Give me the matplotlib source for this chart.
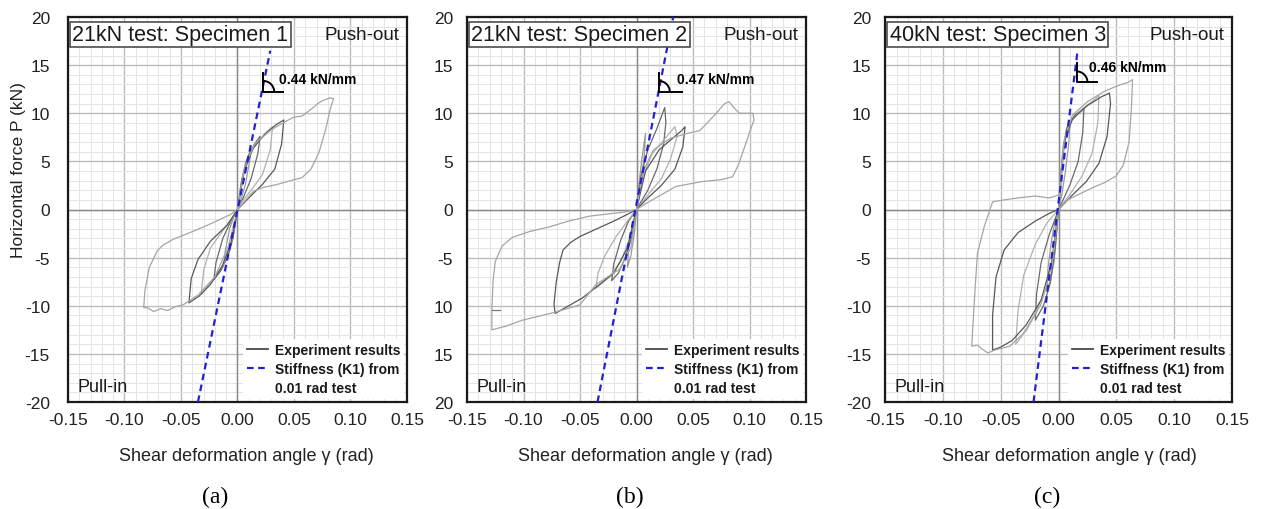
import matplotlib
matplotlib.use("Agg")
import matplotlib.pyplot as plt
from matplotlib.lines import Line2D
from matplotlib.patches import Arc
from matplotlib.ticker import MultipleLocator

plt.rcParams['font.family'] = ['Liberation Sans', 'DejaVu Sans']

# ---- data ----
gamma_ticks = [-0.15, -0.10, -0.05, 0.00, 0.05, 0.10, 0.15]
force_ticks = [-20, -15, -10, -5, 0, 5, 10, 15, 20]
force_labels_a = ['-20', '-15', '-10', '-5', '0', '5', '10', '15', '20']
force_labels_b = ['20', '15', '10', '-5', '0', '5', '10', '15', '20']

titles = ['21kN test: Specimen 1', '21kN test: Specimen 2', '40kN test: Specimen 3']
stiffness_text = ['0.44 kN/mm', '0.47 kN/mm', '0.46 kN/mm']
panel_tags = ['(a)', '(b)', '(c)']

# specimen 1 loops (gamma rad, force kN)
a_loops_x = [
    [0, 0.003, 0.007, 0.012, 0.011, 0.007, 0.003, 0, -0.003, -0.007, -0.012, -0.011, -0.007, -0.003, 0],
    [0, 0.004, 0.009, 0.015, 0.020, 0.018, 0.012, 0.005, 0, -0.004, -0.009, -0.015, -0.021, -0.019, -0.013, -0.005, 0],
    [0, 0.005, 0.012, 0.020, 0.027, 0.031, 0.029, 0.022, 0.012, 0.004, 0, -0.005, -0.012, -0.020, -0.027, -0.032,
     -0.030, -0.024, -0.013, -0.004, 0],
    [0, 0.006, 0.014, 0.024, 0.034, 0.041, 0.039, 0.033, 0.022, 0.010, 0, -0.006, -0.014, -0.024, -0.034, -0.043,
     -0.041, -0.035, -0.024, -0.009, 0],
    [0, 0.006, 0.015, 0.030, 0.045, 0.050, 0.057, 0.065, 0.071, 0.075, 0.082, 0.085, 0.082, 0.078, 0.072, 0.065,
     0.057, 0.050, 0.035, 0.023, 0.014, 0, -0.008, -0.020, -0.035, -0.048, -0.055, -0.062, -0.068, -0.074, -0.080,
     -0.083, -0.082, -0.078, -0.071, -0.066, -0.057, -0.040, -0.024, -0.006, 0],
]
a_loops_y = [
    [0, 2.6, 4.8, 6.3, 5.2, 2.6, 1.0, 0, -2.2, -4.3, -5.6, -4.4, -2.0, -0.7, 0],
    [0, 3.2, 5.4, 6.8, 7.6, 5.8, 3.2, 1.2, 0, -3.0, -5.0, -6.4, -7.3, -5.5, -3.0, -1.0, 0],
    [0, 3.6, 6.0, 7.3, 8.2, 8.6, 6.2, 3.6, 2.0, 0.8, 0, -3.2, -5.6, -7.0, -8.0, -8.8, -6.3, -4.0, -2.2, -0.8, 0],
    [0, 4.0, 6.4, 7.8, 8.8, 9.3, 6.8, 4.2, 2.6, 1.2, 0, -3.6, -6.0, -7.8, -9.0, -9.7, -7.2, -5.2, -3.3, -1.6, 0],
    [0, 4.2, 6.8, 8.3, 9.3, 9.6, 9.7, 10.4, 11.0, 11.3, 11.6, 11.5, 10.4, 8.3, 5.9, 4.2, 3.3, 3.1, 2.6, 2.3, 1.9,
     0, -3.8, -7.0, -8.9, -9.9, -10.1, -10.5, -10.3, -10.6, -10.2, -10.2, -8.5, -6.0, -4.3, -3.7, -3.1, -2.3, -1.5,
     -0.5, 0],
]

# specimen 2 loops
b_loops_x = [
    [0, 0.002, 0.005, 0.008, 0.007, 0.004, 0.001, 0, -0.002, -0.005, -0.008, -0.007, -0.004, 0],
    [0, 0.004, 0.010, 0.018, 0.025, 0.026, 0.024, 0.018, 0.010, 0.003, 0, -0.004, -0.010, -0.016, -0.022, -0.020,
     -0.014, -0.007, 0],
    [0, 0.006, 0.014, 0.024, 0.034, 0.036, 0.030, 0.022, 0.012, 0.004, 0, -0.006, -0.014, -0.024, -0.036, -0.034,
     -0.028, -0.018, -0.008, 0],
    [0, -0.008, -0.020, -0.035, -0.048, -0.060, -0.072, -0.073, -0.071, -0.068, -0.065, -0.058, -0.050, -0.035,
     -0.020, -0.008, 0, 0.008, 0.020, 0.032, 0.040, 0.043, 0.041, 0.034, 0.022, 0.010, 0],
    [0, 0.006, 0.015, 0.030, 0.045, 0.056, 0.065, 0.072, 0.078, 0.082, 0.086, 0.091, 0.097, 0.103, 0.104, 0.100,
     0.096, 0.090, 0.085, 0.075, 0.058, 0.035, 0.020, 0.008, 0, -0.005, -0.015, -0.036, -0.050, -0.073, -0.101,
     -0.115, -0.128, -0.128, -0.127, -0.125, -0.119, -0.110, -0.095, -0.077, -0.060, -0.042, -0.025, -0.012, 0],
    [-0.128, -0.121],
]
b_loops_y = [
    [0, 2.5, 5.5, 7.9, 5.8, 2.8, 0.6, 0, -2.6, -4.8, -6.0, -4.2, -1.8, 0],
    [0, 3.5, 6.2, 8.4, 10.6, 9.0, 6.8, 4.2, 2.0, 0.6, 0, -2.8, -5.0, -6.6, -7.4, -5.6, -3.2, -1.2, 0],
    [0, 3.6, 5.8, 7.2, 8.6, 7.6, 5.2, 3.2, 1.8, 0.6, 0, -3.0, -5.4, -7.0, -8.2, -6.6, -4.8, -2.8, -1.2, 0],
    [0, -4.0, -6.6, -8.0, -9.2, -10.0, -10.8, -9.8, -7.5, -5.5, -4.2, -3.4, -2.8, -2.0, -1.2, -0.5, 0, 4.0, 6.2,
     7.4, 8.2, 8.6, 6.5, 4.2, 2.5, 1.2, 0],
    [0, 4.0, 6.2, 7.4, 7.9, 8.2, 9.3, 10.2, 11.0, 11.2, 10.6, 10.0, 10.0, 10.0, 9.3, 8.0, 6.6, 4.6, 3.4, 3.1, 2.9,
     2.4, 1.4, 0.6, 0, -4.0, -6.2, -7.8, -9.9, -10.7, -11.5, -12.1, -12.5, -10.5, -7.5, -5.4, -3.8, -2.9, -2.3,
     -1.8, -1.2, -0.7, -0.45, -0.3, 0],
    [-10.4, -10.4],
]

# specimen 3 loops
c_loops_x = [
    [0, 0.002, 0.004, 0.007, 0.010, 0.009, 0.006, 0.003, 0, -0.002, -0.004, -0.007, -0.010, -0.009, -0.006,
     -0.003, 0],
    [0, 0.003, 0.007, 0.014, 0.022, 0.021, 0.017, 0.010, 0.004, 0, -0.003, -0.007, -0.013, -0.020, -0.019, -0.015,
     -0.008, -0.003, 0],
    [0, 0.004, 0.010, 0.020, 0.030, 0.035, 0.034, 0.029, 0.020, 0.010, 0, -0.005, -0.012, -0.022, -0.032, -0.037,
     -0.035, -0.030, -0.020, -0.010, 0],
    [0, 0.005, 0.012, 0.025, 0.037, 0.044, 0.045, 0.042, 0.035, 0.024, 0.012, 0, -0.006, -0.015, -0.028, -0.040,
     -0.050, -0.057, -0.057, -0.054, -0.047, -0.035, -0.020, -0.008, 0],
    [0, 0.005, 0.012, 0.025, 0.040, 0.052, 0.060, 0.064, 0.063, 0.061, 0.056, 0.050, 0.040, 0.030, 0.018, 0.008,
     0, -0.006, -0.015, -0.028, -0.042, -0.055, -0.061, -0.066, -0.070, -0.075, -0.074, -0.072, -0.070, -0.064,
     -0.057, -0.047, -0.035, -0.020, -0.008, 0, 0.003],
]
c_loops_y = [
    [0, 3.5, 6.5, 8.4, 9.3, 7.0, 4.0, 1.6, 0, -3.0, -5.5, -7.4, -8.3, -6.0, -3.2, -1.2, 0],
    [0, 5.0, 8.4, 9.8, 10.5, 8.0, 5.0, 2.6, 1.0, 0, -4.2, -7.6, -10.0, -11.5, -8.8, -5.5, -2.6, -1.0, 0],
    [0, 6.5, 9.0, 10.4, 11.3, 11.8, 9.0, 5.8, 3.4, 1.6, 0, -5.0, -8.6, -11.2, -13.2, -14.0, -10.5, -6.8, -3.6,
     -1.4, 0],
    [0, 7.0, 9.4, 10.8, 11.7, 12.1, 11.0, 7.6, 4.8, 2.9, 1.5, 0, -5.5, -9.4, -12.0, -13.6, -14.3, -14.6, -11.0,
     -7.0, -4.2, -2.4, -1.2, -0.4, 0],
    [0, 7.2, 9.8, 11.2, 12.3, 12.9, 13.2, 13.5, 10.5, 7.0, 4.6, 3.5, 2.8, 2.3, 1.6, 1.0, 0, -6.0, -9.8, -12.6,
     -14.2, -14.6, -14.9, -14.5, -14.1, -14.2, -12.0, -8.0, -4.5, -1.7, 0.8, 1.0, 1.2, 1.4, 1.2, 1.5, 3.0],
]

# stiffness (K1) lines
stiff_x = [[-0.035, 0.029], [-0.0345, 0.0325], [-0.0216, 0.0164]]
stiff_y = [[-20, 16.5], [-20, 20], [-20, 16.4]]

# angle-mark corners (gamma, force) and text anchors
mark_corner = [(0.023, 12.2), (0.020, 12.2), (0.0156, 13.2)]
mark_height = 2.0
mark_width = [0.017, 0.020, 0.018]
text_pos = [(0.037, 13.6), (0.0354, 13.6), (0.026, 14.8)]

loops_x = [a_loops_x, b_loops_x, c_loops_x]
loops_y = [a_loops_y, b_loops_y, c_loops_y]

greys = ['#9a9a9a', '#6a6a6a', '#b0b0b0', '#585858', '#a5a5a5', '#7a7a7a']
blue = '#2121d4'

fig = plt.figure(figsize=(12.61, 5.10), dpi=100)
W, H = 1261.0, 510.0
boxes = [(68, 339), (467, 339), (885, 347)]
xlabel_x = [246, 645, 1069]
tag_x = [215, 630, 1047]

for i in range(3):
    left, width = boxes[i]
    ax = fig.add_axes([left / W, 1 - 403 / H, width / W, 385 / H])
    ax.set_xlim(-0.15, 0.15)
    ax.set_ylim(-20, 20)

    ax.xaxis.set_major_locator(MultipleLocator(0.05))
    ax.xaxis.set_minor_locator(MultipleLocator(0.01))
    ax.yaxis.set_major_locator(MultipleLocator(5))
    ax.yaxis.set_minor_locator(MultipleLocator(1))
    ax.grid(which='minor', color='#e4e4e4', lw=0.7)
    ax.grid(which='major', color='#bdbdbd', lw=1.0)
    ax.axhline(0, color='#8a8a8a', lw=1.0, zorder=1)
    ax.axvline(0, color='#8a8a8a', lw=1.0, zorder=1)
    ax.set_axisbelow(True)

    ax.set_xticks(gamma_ticks)
    ax.set_xticklabels(['%.2f' % g for g in gamma_ticks])
    ax.set_yticks(force_ticks)
    ax.set_yticklabels(force_labels_b if i == 1 else force_labels_a)
    ax.tick_params(which='both', length=0, labelsize=12.5, colors='#222222')
    ax.tick_params(axis='y', pad=13 if i == 0 else 10)
    ax.tick_params(axis='x', pad=7)
    for s in ax.spines.values():
        s.set_linewidth(1.6)
        s.set_color('#1a1a1a')

    for k, (xs, ys) in enumerate(zip(loops_x[i], loops_y[i])):
        ax.plot(xs, ys, color=greys[k % len(greys)], lw=0.9, zorder=3)

    ax.plot(stiff_x[i], stiff_y[i], color=blue, ls='--', lw=1.6, dashes=(3, 2), zorder=4)

    # slope mark
    cx, cy = mark_corner[i]
    ax.plot([cx, cx, cx + mark_width[i]], [cy + mark_height, cy, cy], color='black', lw=1.4, zorder=5)
    ax.add_patch(Arc((cx, cy), 0.019, 2.3, theta1=0, theta2=90, color='black', lw=1.4, zorder=5))
    ax.text(text_pos[i][0], text_pos[i][1], stiffness_text[i], fontsize=10, fontweight='bold',
            va='center', ha='left', zorder=6)

    # title box
    ax.text(0.013, 0.955, titles[i], transform=ax.transAxes, fontsize=15.5, va='center', ha='left',
            color='#1a1a1a', zorder=7,
            bbox=dict(boxstyle='square,pad=0.1', facecolor='white', edgecolor='#4d4d4d', lw=1.2))
    ax.text(0.978, 0.955, 'Push-out', transform=ax.transAxes, fontsize=13.5, va='center', ha='right',
            color='#1a1a1a', zorder=7)
    ax.text(0.027, 0.04, 'Pull-in', transform=ax.transAxes, fontsize=13, va='center', ha='left',
            color='#1a1a1a', zorder=7)

    handles = [Line2D([], [], color='#4a4a4a', lw=1.3),
               Line2D([], [], color=blue, ls='--', lw=1.6, dashes=(3, 2)),
               Line2D([], [], color='none')]
    leg = ax.legend(handles, ['Experiment results', 'Stiffness (K1) from', '0.01 rad test'],
                    loc='lower right', frameon=True, fancybox=False, edgecolor='none',
                    facecolor='white', framealpha=1, prop={'weight': 'bold', 'size': 10},
                    handlelength=1.5, handletextpad=0.5, labelspacing=0.35, borderpad=0.3,
                    borderaxespad=0.2)
    leg.set_zorder(8)
    for t in leg.get_texts():
        t.set_color('#1a1a1a')

    ax.set_xlabel('Shear deformation angle γ (rad)', fontsize=13, color='#222222')
    ax.xaxis.set_label_coords((xlabel_x[i] - left) / width, (403 - 457) / 385.0)
    ax.xaxis.label.set_va('center')
    if i == 0:
        ax.set_ylabel('Horizontal force P (kN)', fontsize=12.5, color='#222222')
        ax.yaxis.set_label_coords((19 - left) / width, (403 - 170) / 385.0)
        ax.yaxis.label.set_va('center')

    fig.text(tag_x[i] / W, 1 - 497 / H, panel_tags[i], fontsize=17, family='Liberation Serif',
             ha='center', va='center')

fig.savefig('out.png', dpi=100)
